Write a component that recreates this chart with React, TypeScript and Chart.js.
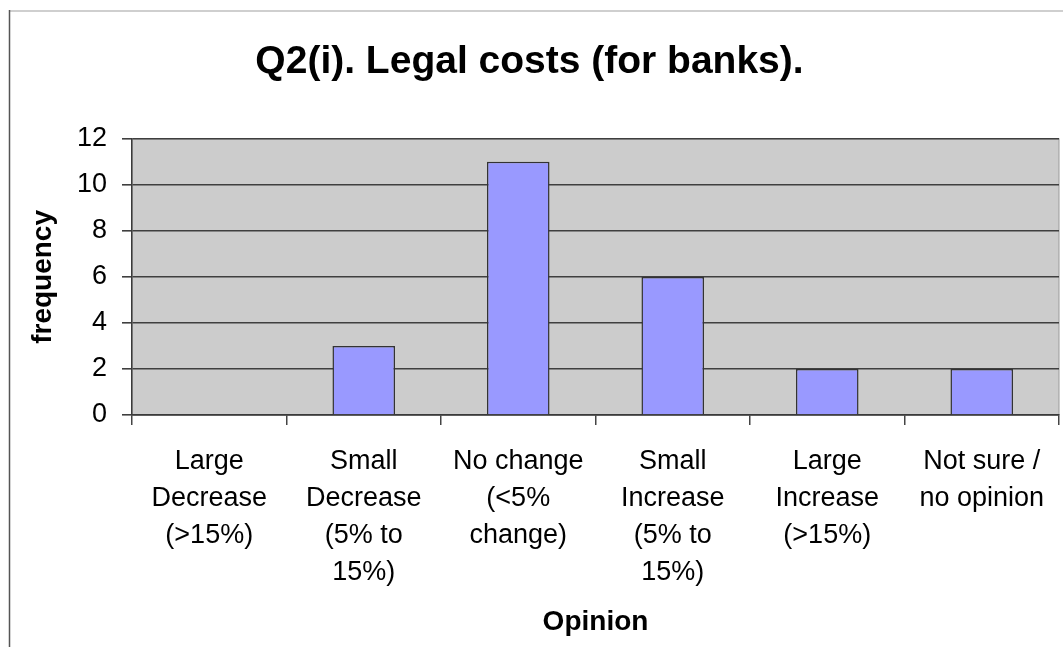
import React, { useEffect, useRef } from "react";
import { Chart, registerables } from "chart.js";

Chart.register(...registerables);

const chartTitle = "Q2(i). Legal costs (for banks).";
const categories: string[][] = [
  ["Large", "Decrease", "(>15%)"],
  ["Small", "Decrease", "(5% to", "15%)"],
  ["No change", "(<5%", "change)"],
  ["Small", "Increase", "(5% to", "15%)"],
  ["Large", "Increase", "(>15%)"],
  ["Not sure /", "no opinion"],
];
const frequencies: number[] = [0, 3, 11, 6, 2, 2];
const yTicks = { min: 0, max: 12, step: 2 };
const xAxisTitle = "Opinion";
const yAxisTitle = "frequency";

const FONT = "'Liberation Sans', Arial, sans-serif";

const framePlugin = {
  id: "framePlugin",
  beforeDraw(chart: any) {
    const { ctx, chartArea } = chart;
    ctx.save();
    ctx.strokeStyle = "#cfcfcf";
    ctx.lineWidth = 2;
    ctx.beginPath();
    ctx.moveTo(9, 11);
    ctx.lineTo(chart.width, 11);
    ctx.stroke();
    ctx.strokeStyle = "#555";
    ctx.lineWidth = 1.5;
    ctx.beginPath();
    ctx.moveTo(9.5, 10);
    ctx.lineTo(9.5, chart.height);
    ctx.stroke();
    ctx.fillStyle = "#cccccc";
    ctx.fillRect(chartArea.left, chartArea.top, chartArea.right - chartArea.left, chartArea.bottom - chartArea.top);
    ctx.strokeStyle = "#9a9a9a";
    ctx.lineWidth = 1;
    ctx.strokeRect(chartArea.left, chartArea.top, chartArea.right - chartArea.left, chartArea.bottom - chartArea.top);
    ctx.restore();
  },
};

export default function App() {
  const ref = useRef<HTMLCanvasElement | null>(null);
  useEffect(() => {
    if (!ref.current) return;
    const chart = new Chart(ref.current, {
      type: "bar",
      data: {
        labels: categories,
        datasets: [
          {
            data: frequencies,
            backgroundColor: "#9999ff",
            borderColor: "#333333",
            borderWidth: 1.5,
            barPercentage: 0.405,
            categoryPercentage: 1,
          },
        ],
      },
      options: {
        animation: false,
        responsive: true,
        maintainAspectRatio: false,
        layout: { padding: { left: 0, right: 4, top: 0, bottom: 0 } },
        plugins: {
          legend: { display: false },
          tooltip: { enabled: false },
          title: {
            display: true,
            text: chartTitle,
            color: "#000",
            font: { family: FONT, size: 39, weight: "bold", lineHeight: 1.2 },
            padding: { top: 39, bottom: 53 },
          },
        },
        scales: {
          x: {
            afterFit: (s: any) => {
              s.height = 232;
            },
            grid: {
              display: true,
              drawOnChartArea: false,
              drawTicks: true,
              tickLength: 10,
              color: "#444",
              lineWidth: 1.5,
              offset: true,
            },
            border: { display: true, color: "#3a3a3a", width: 1.5 },
            ticks: {
              color: "#000",
              padding: 18,
              maxRotation: 0,
              autoSkip: false,
              font: { family: FONT, size: 27, lineHeight: 1.37 },
            },
            title: {
              display: true,
              text: xAxisTitle,
              color: "#000",
              font: { family: FONT, size: 28, weight: "bold", lineHeight: 1.2 },
              padding: { top: 0, bottom: 8 },
            },
          },
          y: {
            min: yTicks.min,
            max: yTicks.max,
            afterFit: (s: any) => {
              s.width = 132;
            },
            grid: {
              display: true,
              drawTicks: true,
              tickLength: 10,
              color: "#3f3f3f",
              lineWidth: 1.6,
            },
            border: { display: true, color: "#3a3a3a", width: 1.5 },
            ticks: {
              stepSize: yTicks.step,
              color: "#000",
              padding: 15,
              font: { family: FONT, size: 27 },
            },
            title: {
              display: true,
              text: yAxisTitle,
              color: "#000",
              font: { family: FONT, size: 28, weight: "bold", lineHeight: 1.2 },
              padding: { top: 26, bottom: 0 },
            },
          },
        },
      },
      plugins: [framePlugin],
    });
    return () => chart.destroy();
  }, []);

  return (
    <div style={{ position: "absolute", left: 0, top: 0, width: 1063, height: 647, background: "#fff" }}>
      <canvas ref={ref} />
    </div>
  );
}
